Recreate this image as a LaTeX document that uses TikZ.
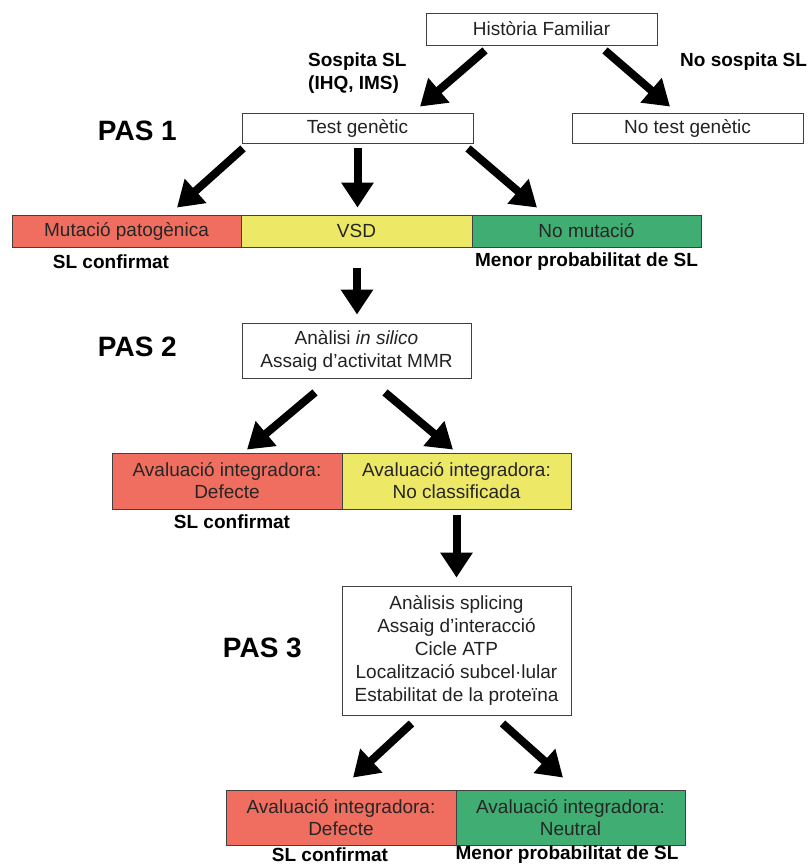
\documentclass[tikz,border=0pt]{standalone}
\usepackage{fontspec}
\setmainfont{Liberation Sans}
\usetikzlibrary{arrows.meta}
\definecolor{inkgray}{HTML}{222222}
\definecolor{cellred}{HTML}{EF6E5F}
\definecolor{cellyellow}{HTML}{EDE865}
\definecolor{cellgreen}{HTML}{40AE72}
\begin{document}
\begin{tikzpicture}[x=1pt,y=-1pt,
  txt/.style={font=\fontsize{19}{22}\selectfont, text=inkgray},
  box/.style={txt, draw=black!75, line width=0.9pt, fill=white, inner sep=0pt, align=center},
  cell/.style={box, text=black!85},
  note/.style={font=\fontsize{19}{23}\selectfont\bfseries, text=black, inner sep=0pt},
  paslabel/.style={font=\fontsize{28}{32}\selectfont\bfseries, text=black, inner sep=0pt},
  bigarrow/.style={line width=8pt, black, -{Triangle[length=25pt,width=31pt]}}
]
\useasboundingbox (0,0) rectangle (808,866);

% top row
\node[box, minimum width=231pt, minimum height=32pt] (hist) at (541.5,29) {Història Familiar};
\node[box, minimum width=231pt, minimum height=30pt] (test) at (357.5,128) {Test genètic};
\node[box, minimum width=231pt, minimum height=30pt] (notest) at (687.5,128) {No test genètic};

\node[note, align=left, anchor=west] (sosp) at (308,73.5) {Sospita SL\\(IHQ, IMS)};
\node[note, anchor=west] (nosp) at (680,62) {No sospita SL};
\node[paslabel, anchor=east] (pas1) at (177,131) {PAS 1};

% first result bar
\node[cell, fill=cellred, minimum width=229pt, minimum height=32pt] (mut) at (126.5,231) {Mutació patogènica};
\node[cell, fill=cellyellow, minimum width=231pt, minimum height=32pt] (vsd) at (356.5,231) {VSD};
\node[cell, fill=cellgreen, minimum width=229pt, minimum height=32pt] (nomut) at (586.5,231) {No mutació};
\node[note] (conf1) at (111,262) {SL confirmat};
\node[note] (menor1) at (586.5,262) {Menor probabilitat de SL};

% step 2
\node[paslabel, anchor=east] (pas2) at (177,347) {PAS 2};
\node[box, minimum width=229pt, minimum height=55pt, font=\fontsize{19}{23}\selectfont] (silico) at (356.5,350.5)
  {Anàlisi \textit{in silico}\\Assaig d’activitat MMR};

\node[cell, fill=cellred, minimum width=230pt, minimum height=56pt] (def2) at (227,481) {Avaluació integradora:\\Defecte};
\node[cell, fill=cellyellow, minimum width=229pt, minimum height=56pt] (nc2) at (456.5,481) {Avaluació integradora:\\No classificada};
\node[note] (conf2) at (232,522) {SL confirmat};

% step 3
\node[paslabel, anchor=east] (pas3) at (302,648) {PAS 3};
\node[box, minimum width=229pt, minimum height=129pt, font=\fontsize{19}{23}\selectfont] (func) at (456.5,650.5)
  {Anàlisis splicing\\Assaig d’interacció\\Cicle ATP\\Localització subcel·lular\\Estabilitat de la proteïna};

\node[cell, fill=cellred, minimum width=230pt, minimum height=55pt] (def3) at (341,817.5) {Avaluació integradora:\\Defecte};
\node[cell, fill=cellgreen, minimum width=229pt, minimum height=55pt] (neu3) at (570.5,817.5) {Avaluació integradora:\\Neutral};
\node[note] (conf3) at (330,855) {SL confirmat};
\node[note] (menor3) at (567,855) {Menor probabilitat de SL};

% arrows
\draw[bigarrow] ([xshift=-56.5pt,yshift=-5pt]hist.south) -- ([xshift=62.5pt,yshift=6pt]test.north);
\draw[bigarrow] ([xshift=63.5pt,yshift=-5pt]hist.south) -- ([xshift=-17.5pt,yshift=6pt]notest.north);

\draw[bigarrow] ([xshift=-114.5pt,yshift=-5pt]test.south) -- ([xshift=50.5pt,yshift=7pt]mut.north);
\draw[bigarrow] ([yshift=-5pt]test.south) -- ([xshift=1pt,yshift=7pt]vsd.north);
\draw[bigarrow] ([xshift=110.5pt,yshift=-5pt]test.south) -- ([xshift=-49.5pt,yshift=7pt]nomut.north);

\draw[bigarrow] ([xshift=0.5pt,yshift=-21pt]vsd.south) -- ([xshift=0.5pt,yshift=8pt]silico.north);

\draw[bigarrow] ([xshift=-41.5pt,yshift=-14pt]silico.south) -- ([xshift=20pt,yshift=3pt]def2.north);
\draw[bigarrow] ([xshift=28.5pt,yshift=-14pt]silico.south) -- ([xshift=-3.5pt,yshift=3pt]nc2.north);

\draw[bigarrow] ([yshift=-6pt]nc2.south) -- ([yshift=8pt]func.north);

\draw[bigarrow] ([xshift=-45pt,yshift=-8pt]func.south) -- ([xshift=12pt,yshift=12pt]def3.north);
\draw[bigarrow] ([xshift=46pt,yshift=-8pt]func.south) -- ([xshift=-7.5pt,yshift=12pt]neu3.north);
\end{tikzpicture}
\end{document}
